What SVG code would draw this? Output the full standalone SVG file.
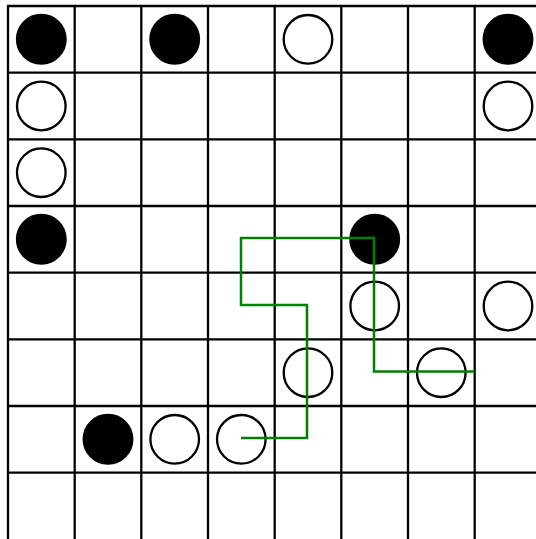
<svg xmlns="http://www.w3.org/2000/svg" width="536" height="539" viewBox="0 0 536 539">
<style>
.grid line{stroke:#000;stroke-width:2.3}
.b{fill:#000;stroke:#000;stroke-width:2.3}
.w{fill:#fff;stroke:#000;stroke-width:2.3}
.path{fill:none;stroke:#008000;stroke-width:2.5}
</style>
<rect width="536" height="539" fill="#fff"/>
<g id="grid" class="grid">
<line x1="8" y1="6" x2="8" y2="539"/>
<line x1="74.7" y1="6" x2="74.7" y2="539"/>
<line x1="141.3" y1="6" x2="141.3" y2="539"/>
<line x1="208" y1="6" x2="208" y2="539"/>
<line x1="274.7" y1="6" x2="274.7" y2="539"/>
<line x1="341.3" y1="6" x2="341.3" y2="539"/>
<line x1="408" y1="6" x2="408" y2="539"/>
<line x1="474.7" y1="6" x2="474.7" y2="539"/>
<line x1="7" y1="6" x2="536" y2="6"/>
<line x1="7" y1="72.7" x2="536" y2="72.7"/>
<line x1="7" y1="139.3" x2="536" y2="139.3"/>
<line x1="7" y1="206" x2="536" y2="206"/>
<line x1="7" y1="272.7" x2="536" y2="272.7"/>
<line x1="7" y1="339.3" x2="536" y2="339.3"/>
<line x1="7" y1="406" x2="536" y2="406"/>
<line x1="7" y1="472.7" x2="536" y2="472.7"/>
</g>
<g id="pieces">
<circle id="p-r0c0" class="b" cx="41.3" cy="39.3" r="24.3"/>
<circle id="p-r0c2" class="b" cx="174.7" cy="39.3" r="24.3"/>
<circle id="p-r0c4" class="w" cx="308" cy="39.3" r="24.3"/>
<circle id="p-r0c7" class="b" cx="508" cy="39.3" r="24.3"/>
<circle id="p-r1c0" class="w" cx="41.3" cy="106" r="24.3"/>
<circle id="p-r1c7" class="w" cx="508" cy="106" r="24.3"/>
<circle id="p-r2c0" class="w" cx="41.3" cy="172.7" r="24.3"/>
<circle id="p-r3c0" class="b" cx="41.3" cy="239.3" r="24.3"/>
<circle id="p-r3c5" class="b" cx="374.7" cy="239.3" r="24.3"/>
<circle id="p-r4c5" class="w" cx="374.7" cy="306" r="24.3"/>
<circle id="p-r4c7" class="w" cx="508" cy="306" r="24.3"/>
<circle id="p-r5c4" class="w" cx="308" cy="372.7" r="24.3"/>
<circle id="p-r5c6" class="w" cx="441.3" cy="372.7" r="24.3"/>
<circle id="p-r6c1" class="b" cx="108" cy="439.3" r="24.3"/>
<circle id="p-r6c2" class="w" cx="174.7" cy="439.3" r="24.3"/>
<circle id="p-r6c3" class="w" cx="241.3" cy="439.3" r="24.3"/>
</g>
<g id="connectors">
<polyline class="path" points="241,438 307,438 307,305 241,305 241,238 374,238 374,371.5 474.5,371.5"/>
</g>
</svg>
